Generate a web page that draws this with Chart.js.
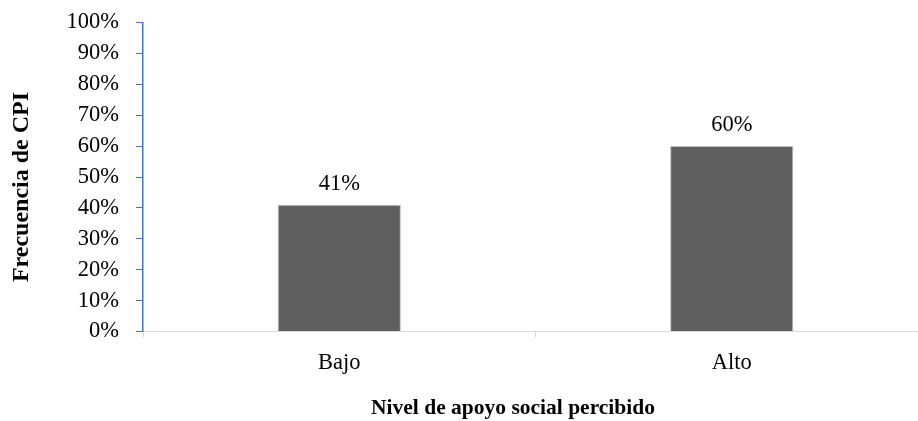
<!DOCTYPE html>
<html>
<head>
<meta charset="utf-8">
<script src="https://cdn.jsdelivr.net/npm/chart.js@4/dist/chart.umd.min.js"></script>
<style>
  html, body { margin: 0; padding: 0; background: #fff; overflow: hidden; }
  #wrap { width: 930px; height: 421px; }
</style>
</head>
<body>
<div id="wrap"><canvas id="cpiChart" width="930" height="421"></canvas></div>
<script>
// Frecuencia de CPI por nivel de apoyo social
var categorias = ['Bajo', 'Alto'];
var frecuencia = [41, 60];
var ticksY = [0, 10, 20, 30, 40, 50, 60, 70, 80, 90, 100];

var fuente = '"Liberation Serif", "Times New Roman", serif';
var colorBarra = '#5f5f5f';

// etiquetas encima de cada barra y títulos de los ejes
var textosPlugin = {
    id: 'textos',
    afterDatasetsDraw: function (chart) {
        var ctx = chart.ctx;
        var meta = chart.getDatasetMeta(0);
        ctx.save();
        ctx.fillStyle = '#000';
        ctx.font = '22.5px ' + fuente;
        ctx.textAlign = 'center';
        ctx.textBaseline = 'middle';
        meta.data.forEach(function (bar, i) {
            ctx.fillText(frecuencia[i] + '%', bar.x, bar.y - 21);
        });

        ctx.font = 'bold 21.5px ' + fuente;
        ctx.fillText('Nivel de apoyo social percibido', 513, 408);

        ctx.font = 'bold 24px ' + fuente;
        ctx.translate(22, 187);
        ctx.rotate(-Math.PI / 2);
        ctx.fillText('Frecuencia de CPI', 0, 0);
        ctx.restore();
    }
};

new Chart(document.getElementById('cpiChart').getContext('2d'), {
    type: 'bar',
    data: {
        labels: categorias,
        datasets: [{
            data: frecuencia,
            backgroundColor: colorBarra,
            borderColor: '#bfbfbf',
            borderWidth: 1,
            categoryPercentage: 1,
            barPercentage: 0.314
        }]
    },
    options: {
        responsive: false,
        animation: false,
        layout: { padding: { top: 22.5, left: 0, right: 2, bottom: 0 } },
        plugins: { legend: { display: false }, tooltip: { enabled: false } },
        scales: {
            x: {
                offset: true,
                grid: { offset: true, drawOnChartArea: false, tickLength: 6, color: '#d9d9d9' },
                border: { color: '#d9d9d9', width: 1 },
                ticks: { color: '#000', font: { family: fuente, size: 22.5 }, padding: 12 },
                afterFit: function (scale) {
                    scale.height = 89.5;
                    scale.paddingLeft = 0;
                    scale.paddingRight = 0;
                }
            },
            y: {
                min: 0,
                max: 100,
                afterBuildTicks: function (scale) {
                    scale.ticks = ticksY.map(function (v) { return { value: v }; });
                },
                grid: { drawOnChartArea: false, tickLength: 7, color: '#4472c4' },
                border: { color: '#4472c4', width: 1.5 },
                ticks: {
                    color: '#000',
                    font: { family: fuente, size: 22.5 },
                    padding: 17,
                    callback: function (v) { return v + '%'; }
                },
                afterFit: function (scale) {
                    scale.width = 143;
                    scale.paddingTop = 0;
                    scale.paddingBottom = 0;
                }
            }
        }
    },
    plugins: [textosPlugin]
});
</script>
</body>
</html>
